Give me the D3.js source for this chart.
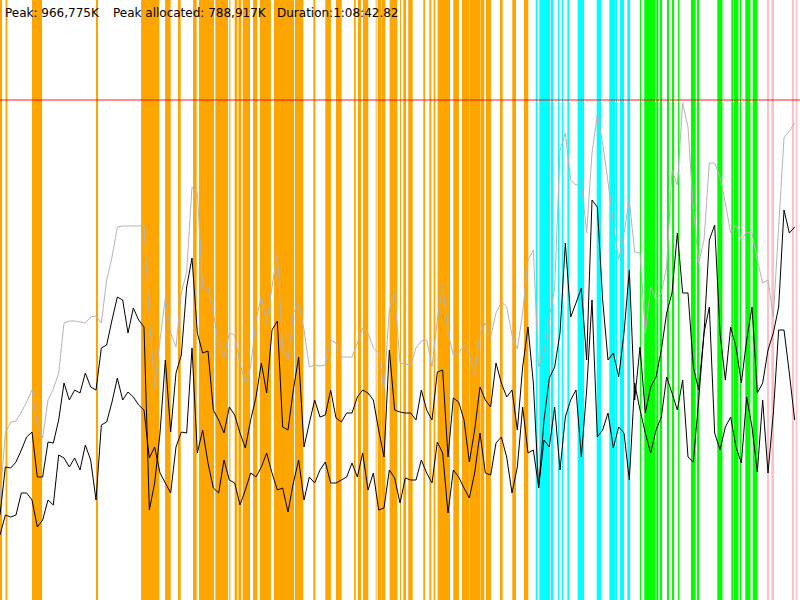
<!DOCTYPE html>
<html>
<head>
<meta charset="utf-8">
<script src="https://cdn.jsdelivr.net/npm/d3@7"></script>
<style>
  html, body { margin: 0; padding: 0; background: #fff; }
  svg { display: block; }
</style>
</head>
<body>
<div id="chart"></div>
<script>
// run summary shown in the header
const headerLabels = ["Peak: 966,775K", "Peak allocated: 788,917K", "Duration:1:08:42.82"];

// sampling: one sample every few seconds, 300 samples over the run
const sampleCount = 300;
const sampleStep = 2;           // series below hold every 2nd sample
const heapLimitMB = 1000;       // red limit line

// GC / phase events, as [start sample, end sample]
const youngGC = [
  [0, 0.75], [2.1, 2.75], [12, 15.75], [36, 36.75], [52.9, 59.75], [61.9, 64], [66.75, 67.75],
  [72.4, 73.75], [74.6, 80.25], [80.75, 85.5], [86, 86.4], [88, 89], [89.4, 90.5], [91, 93.75],
  [94.9, 96.5], [97.4, 101.6], [102.75, 110.25], [110.6, 113.75], [117.5, 118.25], [122, 124.1],
  [126, 128.1], [132.75, 133.4], [134.25, 135.4], [136.1, 138.1], [140.9, 141.2], [141.6, 143.1],
  [143.25, 144.5], [146.1, 149], [150, 150.4], [151.25, 152.25], [153.1, 154.75], [158.75, 159.4],
  [161, 161.75], [162.6, 163.25], [164.1, 168.75], [170, 172.1], [173.25, 176], [176.1, 180.25],
  [180.4, 181.6], [182.25, 184.1], [187.5, 188.5], [192.1, 193.5], [196.5, 198.1]
];
const mixedGC = [
  [200.9, 201.6], [202.25, 206.25], [206.6, 207.5], [209.25, 209.75], [210.75, 211.25],
  [212.75, 213.5], [216.6, 219], [223.75, 225.4], [228.5, 230.75], [231, 231.4], [232.5, 234],
  [235.25, 236.25]
];
const concurrentGC = [
  [240, 240.5], [241.6, 245.75], [246.1, 246.9], [247.5, 248.25], [250.1, 250.9], [252, 252.75],
  [254.25, 254.75], [259.1, 260.9], [261.4, 262.25], [269, 270.9], [274.25, 275], [275.25, 276.9],
  [277.5, 278], [279.5, 281.4], [282.25, 284.1]
];
const fullGC = [[287.6, 288.4], [289.25, 290.25], [297, 297.75], [298.4, 299]];

// heap committed (MB)
const heapSize = [
  200,334,356,358,376,396,420,350,324,400,422,454,554,558,558,556,554,566,568,554,
  640,686,746,748,748,748,748,750,566,426,520,604,534,506,614,656,826,814,
  624,624,574,514,486,534,530,474,434,466,560,606,554,626,694,504,480,574,594,540,
  466,470,468,470,520,514,486,486,486,514,544,534,504,494,420,580,614,
  474,472,470,504,518,520,466,560,630,534,490,494,510,494,450,534,554,526,574,596,
  586,530,502,574,680,700,466,494,566,624,900,934,840,830,836,734,894,970,
  914,836,754,680,734,800,696,694,534,626,600,614,666,860,830,994,946,780,674,720,
  874,874,846,794,734,750,720,736,734,680,634,640,566,746,924,938,954
];

// heap used before collection (MB)
const usedBefore = [
  170,266,264,276,300,326,336,246,246,316,314,360,434,400,420,414,454,426,420,504,
  510,560,606,600,534,584,560,546,180,234,334,480,336,454,490,626,684,534,
  494,498,380,360,334,386,370,334,304,360,406,474,414,540,558,346,340,420,486,306,
  354,400,366,370,420,364,356,374,374,406,420,414,400,340,286,500,380,
  376,374,374,360,420,380,360,456,460,286,404,396,360,276,340,426,400,386,474,434,
  406,420,340,466,546,434,224,360,444,466,534,714,566,594,624,480,800,786,
  600,480,494,446,534,660,400,506,374,426,446,500,574,614,734,614,614,466,420,534,
  720,750,534,440,546,506,434,520,586,414,434,500,534,586,780,734,746
];

// heap used after collection (MB)
const usedAfter = [
  130,170,166,170,214,214,200,146,160,200,190,290,284,266,284,260,310,280,200,350,
  356,396,444,400,416,406,390,380,284,306,254,234,214,306,336,334,504,294,
  340,274,224,214,280,240,234,190,220,254,246,266,294,254,220,224,176,234,280,200,
  246,234,260,276,234,234,240,246,274,246,294,220,254,180,184,260,244,
  194,244,240,240,280,254,234,316,294,174,260,246,224,204,254,334,254,250,314,326,
  286,214,266,386,294,300,226,320,306,386,260,366,400,420,286,420,600,326,
  340,374,304,346,334,240,434,380,334,294,340,366,446,414,380,440,286,276,400,534,
  586,334,300,346,366,306,274,406,346,256,400,254,374,540,540,454,360
];

const width = 800, height = 600;

const svg = d3.select("#chart").append("svg")
    .attr("width", width)
    .attr("height", height);

const x = d3.scaleLinear().domain([0, sampleCount]).range([0, width]);
const y = d3.scaleLinear().domain([0, 1200]).range([height, 0]);

// event bands
const bandGroups = [
  {events: youngGC, color: "#ffa500"},
  {events: mixedGC, color: "#00ffff"},
  {events: concurrentGC, color: "#00ff00"},
  {events: fullGC, color: "#ffc0cb"}
];
bandGroups.forEach(function (g) {
    svg.append("g")
        .selectAll("rect")
        .data(g.events)
        .enter()
        .append("rect")
        .attr("x", d => x(d[0]))
        .attr("width", d => x(d[1]) - x(d[0]))
        .attr("y", 0)
        .attr("height", height)
        .attr("fill", g.color);
});

// heap limit
svg.append("line")
    .attr("x1", 0).attr("x2", width)
    .attr("y1", y(heapLimitMB)).attr("y2", y(heapLimitMB))
    .attr("stroke", "#ff0000")
    .attr("stroke-opacity", 0.6)
    .attr("stroke-width", 1.5);

const line = d3.line()
    .x((d, i) => x(i * sampleStep))
    .y(d => y(d));

const series = [
  {values: heapSize, color: "#b4b4b4"},
  {values: usedAfter, color: "#000"},
  {values: usedBefore, color: "#000"}
];
series.forEach(function (s) {
    svg.append("path")
        .datum(s.values)
        .attr("fill", "none")
        .attr("stroke", s.color)
        .attr("stroke-width", 1)
        .attr("d", line);
});

// header text
const headerX = [5, 113, 277];
svg.append("g")
    .selectAll("text")
    .data(headerLabels)
    .enter()
    .append("text")
    .attr("x", (d, i) => headerX[i])
    .attr("y", 17)
    .attr("font-family", "DejaVu Sans, sans-serif")
    .attr("font-size", 12)
    .attr("fill", "#000")
    .text(d => d);
</script>
</body>
</html>
